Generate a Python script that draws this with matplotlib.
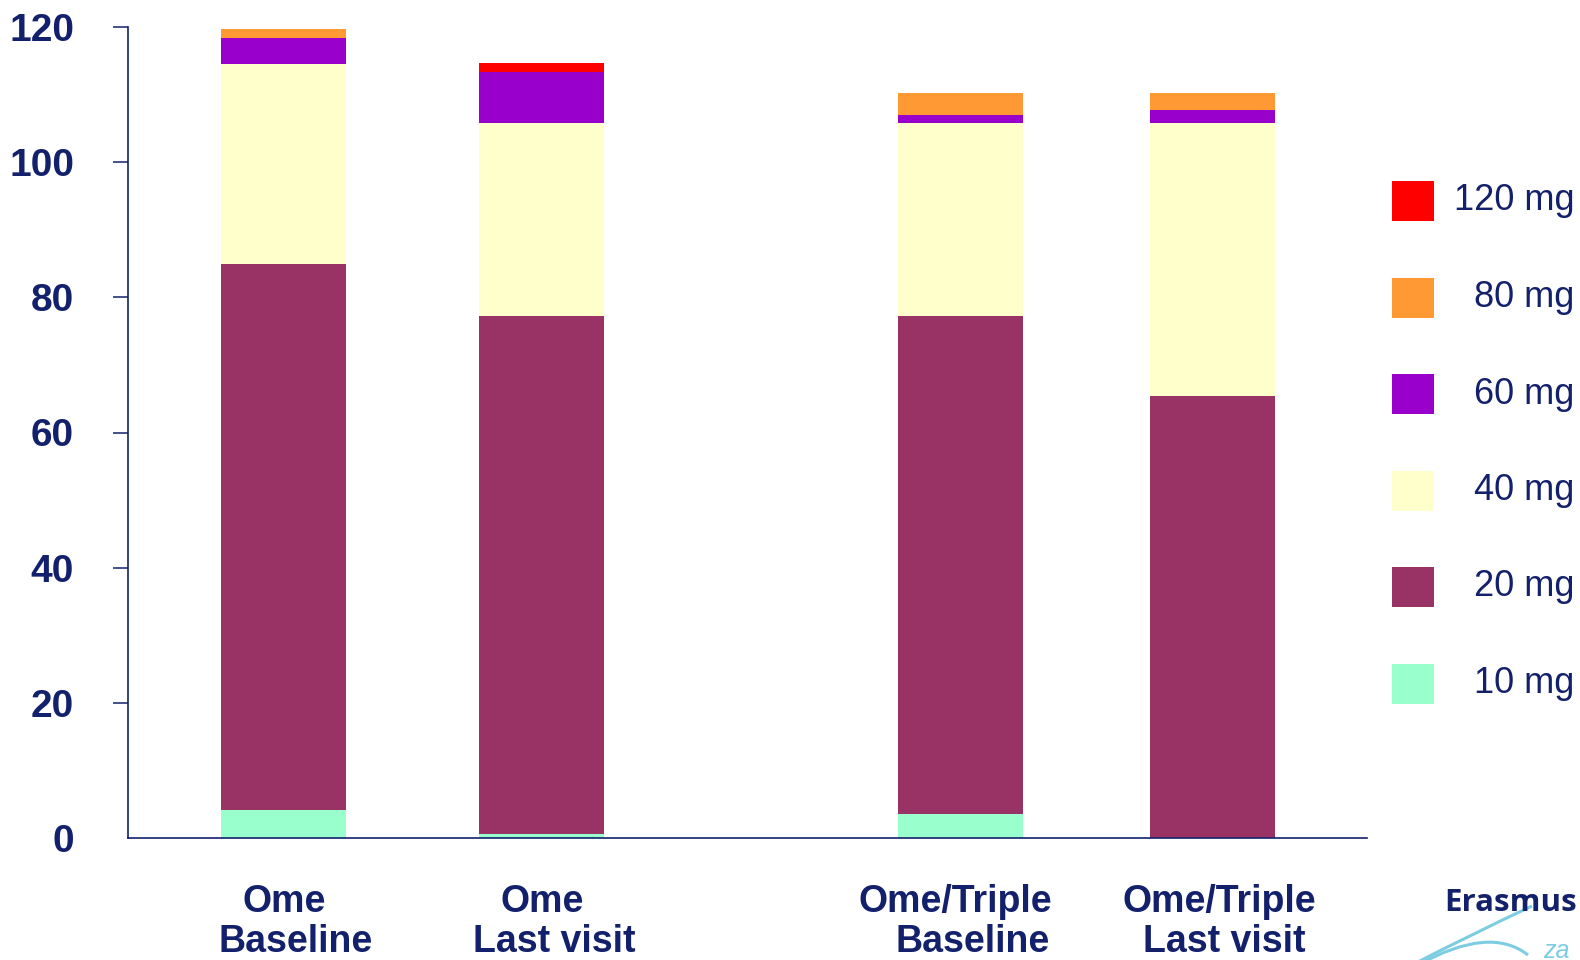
import matplotlib
matplotlib.use("Agg")
import matplotlib.pyplot as plt
from matplotlib.patches import Rectangle, PathPatch
from matplotlib.path import Path

# ---- data -------------------------------------------------------------
categories = ["Ome\nBaseline", "Ome\nLast visit",
              "Ome/Triple\nBaseline", "Ome/Triple\nLast visit"]
doses = ["10 mg", "20 mg", "40 mg", "60 mg", "80 mg", "120 mg"]
dose_10 = [4.1, 0.6, 3.6, 0.0]
dose_20 = [80.8, 76.6, 73.6, 65.4]
dose_40 = [29.6, 28.6, 28.6, 40.4]
dose_60 = [3.8, 7.5, 1.2, 1.9]
dose_80 = [1.4, 0.0, 3.3, 2.6]
dose_120 = [0.0, 1.4, 0.0, 0.0]
y_ticks = [0, 20, 40, 60, 80, 100, 120]

# ---- style ------------------------------------------------------------
NAVY = "#13206b"
colors = ["#99ffcc", "#993366", "#ffffcc", "#9900cc", "#ff9933", "#ff0000"]
positions = [0.0, 1.0, 2.625, 3.60]
label_shift = [1.0, 1.0, -3.5, 5.0]     # points, first label line
BAR_W = 0.485
W, H = 1580, 960
PX = 72 / 100                            # points per pixel at 100 dpi

plt.rcParams["font.family"] = ["Liberation Sans", "DejaVu Sans"]

fig = plt.figure(figsize=(W / 100, H / 100), dpi=100)
fig.patch.set_facecolor("white")
ax = fig.add_axes([128 / W, 122 / H, (1367 - 128) / W, (838 - 27) / H])

series = [dose_10, dose_20, dose_40, dose_60, dose_80, dose_120]
bottom = [0.0] * len(categories)
for vals, col in zip(series, colors):
    ax.bar(positions, vals, width=BAR_W, bottom=bottom, color=col,
           linewidth=0, zorder=2)
    bottom = [b + v for b, v in zip(bottom, vals)]

ax.set_ylim(0, 120)
ax.set_xlim(-0.6016, 4.2)
ax.set_yticks(y_ticks)
ax.set_yticklabels([str(t) for t in y_ticks], fontsize=28,
                   fontweight="bold", color=NAVY)
ax.tick_params(axis="y", direction="out", length=15 * PX, width=1.1,
               color=NAVY, pad=39 * PX)
# the zero tick sits on the baseline corner, so only its label is shown
ax.yaxis.get_major_ticks()[0].tick1line.set_visible(False)
ax.set_xticks([])
for side in ("top", "right"):
    ax.spines[side].set_visible(False)
for side in ("left", "bottom"):
    ax.spines[side].set_color(NAVY)
    ax.spines[side].set_linewidth(1.2)
ax.spines["bottom"].set_zorder(3)

# two-line category labels under each bar
for x, cat, dx in zip(positions, categories, label_shift):
    first, second = cat.split("\n")
    ax.annotate(first, xy=(x, 0), xycoords=("data", "axes fraction"),
                xytext=(dx, -53), textcoords="offset points",
                ha="center", va="baseline", fontsize=27,
                fontweight="bold", color=NAVY)
    ax.annotate(second, xy=(x, 0), xycoords=("data", "axes fraction"),
                xytext=(9, -82), textcoords="offset points",
                ha="center", va="baseline", fontsize=27,
                fontweight="bold", color=NAVY)

# legend column, highest dose on top
top_y = 181
for i, (lab, col) in enumerate(zip(doses[::-1], colors[::-1])):
    y0 = top_y + i * 96.5
    fig.add_artist(Rectangle((1392 / W, 1 - (y0 + 40) / H), 42 / W, 40 / H,
                             transform=fig.transFigure, facecolor=col,
                             edgecolor="none"))
    fig.text(1574 / W, 1 - (y0 + 20) / H, lab, ha="right", va="center",
             fontsize=26, color=NAVY)

# Erasmus mark in the corner
fig.text(1444 / W, 1 - 911 / H, "Erasmus", ha="left", va="baseline",
         fontsize=22.5, fontweight="bold", color=NAVY, family="Open Sans")
SWOOSH = "#7ccde2"


def fig_pt(x, y):
    return (x / W, 1 - y / H)


stroke1 = Path([fig_pt(1412, 965), fig_pt(1470, 935), fig_pt(1532, 906)],
               [Path.MOVETO, Path.CURVE3, Path.CURVE3])
stroke2 = Path([fig_pt(1418, 965), fig_pt(1490, 925), fig_pt(1528, 955)],
               [Path.MOVETO, Path.CURVE3, Path.CURVE3])
for p in (stroke1, stroke2):
    fig.add_artist(PathPatch(p, transform=fig.transFigure, facecolor="none",
                             edgecolor=SWOOSH, linewidth=2.2))
fig.text(1543 / W, 1 - 958 / H, "za", ha="left", va="baseline",
         fontsize=18, style="italic", color=SWOOSH)

fig.savefig("out.png", dpi=100, facecolor="white")
